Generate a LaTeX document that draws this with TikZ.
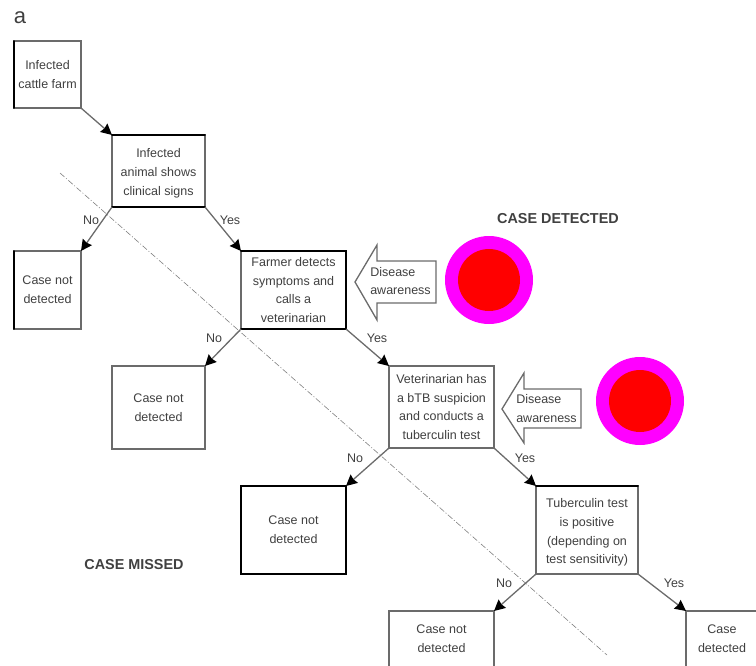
\documentclass[tikz,border=0pt]{standalone}
\usepackage{fontspec}
\setmainfont{Liberation Sans}
\usetikzlibrary{arrows.meta}
\definecolor{ink}{gray}{0.25}
\definecolor{edgegray}{gray}{0.42}
\definecolor{ringpink}{rgb}{1,0,1}
\tikzset{
  x=1pt,y=-1pt,
  flowbox/.style={draw=edgegray,line width=1.1pt,fill=white,inner sep=0pt,outer sep=0pt,align=center,text=ink,
    font=\fontsize{12.5}{18.8}\selectfont},
  heavyedge/.style={draw=black,line width=1.8pt,line cap=round},
  flow/.style={draw=edgegray,line width=1.3pt,-{Stealth[length=11pt,width=11pt,inset=1pt,black]}},
  lbl/.style={text=ink,inner sep=0pt,font=\fontsize{12.5}{14}\selectfont},
  headline/.style={text=ink,inner sep=0pt,font=\fontsize{14.4}{16}\bfseries\selectfont},
  blockarrow/.style={draw=edgegray,line width=1.3pt,fill=white},
  ring/.style={circle,fill=ringpink,inner sep=0pt,minimum size=88pt},
  core/.style={circle,fill=red,inner sep=0pt,minimum size=62pt},
  cut/.style={draw=gray,line width=0.6pt,dash pattern=on 6pt off 2pt on 1pt off 2pt}
}
\newcommand{\lowered}{\rule{0pt}{14pt}}
\begin{document}
\begin{tikzpicture}
\useasboundingbox (0,0) rectangle (756,665);
\clip (0,0) rectangle (756,665);
\node[text=ink,inner sep=0pt,font=\fontsize{22}{24}\selectfont] (panel) at (20,18) {a};

\draw[cut] (60,173) coordinate (cutA) -- (607,655) coordinate (cutB);

\node[flowbox,minimum width=67pt,minimum height=67pt] (farm) at (47.5,74.5) {Infected\\cattle farm};
\node[flowbox,minimum width=93pt,minimum height=72pt] (signs) at (158.5,171) {\lowered Infected\\animal shows\\clinical signs};
\node[flowbox,minimum width=67pt,minimum height=78pt] (nd1) at (47.5,290) {Case not\\detected};
\node[flowbox,minimum width=105pt,minimum height=78pt] (farmer) at (293.5,290) {Farmer detects\\symptoms and\\calls a\\veterinarian};
\node[flowbox,minimum width=93pt,minimum height=83pt] (nd2) at (158.5,407.5) {Case not\\detected};
\node[flowbox,minimum width=105pt,minimum height=82pt] (vet) at (441.5,407) {Veterinarian has\\a bTB suspicion\\and conducts a\\tuberculin test};
\node[flowbox,minimum width=105pt,minimum height=88pt] (nd3) at (293.5,530) {Case not\\detected};
\node[flowbox,minimum width=102pt,minimum height=88pt] (tub) at (587,530) {\lowered Tuberculin test\\is positive\\(depending on\\test sensitivity)};
\node[flowbox,minimum width=105pt,minimum height=80pt] (nd4) at (441.5,651) {};
\node[flowbox,draw=none,fill=none] (nd4t) at (441.5,638.5) {Case not\\detected};
\node[flowbox,minimum width=90pt,minimum height=80pt] (det) at (731,651) {};
\node[flowbox,draw=none,fill=none] (dett) at (722,638.5) {Case\\detected};

\draw[heavyedge] (farm.north west) -- (farm.south west);
\draw[heavyedge] (signs.north west) -- (signs.north east);
\draw[heavyedge] (signs.south west) -- (signs.south east);
\draw[heavyedge] (nd1.north west) -- (nd1.south west);
\draw[heavyedge] (farmer.south east) -- (farmer.north east) -- (farmer.north west);
\draw[heavyedge] (farmer.south west) -- (farmer.south east);
\draw[heavyedge] (nd3.north west) -- (nd3.north east) -- (nd3.south east) -- (nd3.south west) -- cycle;
\draw[heavyedge] (tub.north west) -- (tub.north east);

\draw[flow] (farm.south east) -- (signs.north west);
\draw[flow] (signs.south west) -- (nd1.north east);
\draw[flow] (signs.south east) -- (farmer.north west);
\draw[flow] (farmer.south west) -- (nd2.north east);
\draw[flow] (farmer.south east) -- (vet.north west);
\draw[flow] (vet.south west) -- (nd3.north east);
\draw[flow] (vet.south east) -- (tub.north west);
\draw[flow] (tub.south west) -- (nd4.north east);
\draw[flow] (tub.south east) -- (det.north west);

\node[lbl] (n1) at (91,220) {No};
\node[lbl] (y1) at (230,220) {Yes};
\node[lbl] (n2) at (214,338) {No};
\node[lbl] (y2) at (377,338) {Yes};
\node[lbl] (n3) at (355,458) {No};
\node[lbl] (y3) at (525,458) {Yes};
\node[lbl] (n4) at (504,583) {No};
\node[lbl] (y4) at (674,583) {Yes};

\draw[blockarrow] (355,282) -- (377,245) -- (377,261) -- (436,261) -- (436,303) -- (377,303) -- (377,320) -- cycle;
\node[flowbox,draw=none,fill=none,align=left] (aware1) at (400.5,281) {Disease\\awareness};
\draw[blockarrow] (502,409) -- (524,373) -- (524,389) -- (581,389) -- (581,428) -- (524,428) -- (524,443) -- cycle;
\node[flowbox,draw=none,fill=none,align=left] (aware2) at (546.5,408.5) {Disease\\awareness};

\node[ring] (ring1) at (489,280) {};
\node[core] (core1) at (ring1) {};
\node[ring] (ring2) at (640,401) {};
\node[core] (core2) at (ring2) {};

\node[headline] (detected) at (558,219) {CASE DETECTED};
\node[headline] (missed) at (134,564.5) {CASE MISSED};
\end{tikzpicture}
\end{document}
